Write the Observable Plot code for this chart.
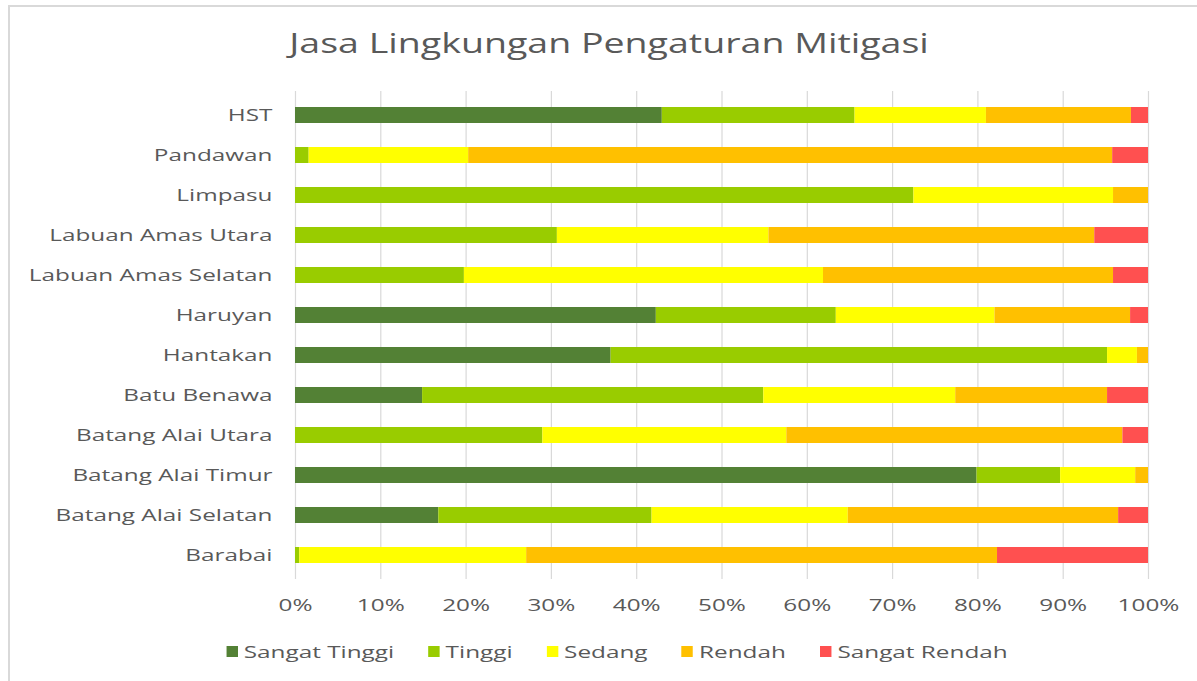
<!DOCTYPE html>
<html>
<head>
<meta charset="utf-8">
<script src="https://cdn.jsdelivr.net/npm/d3@7"></script>
<script src="https://cdn.jsdelivr.net/npm/@observablehq/plot@0.6"></script>
<style>
  html, body { margin: 0; padding: 0; background: #fff; }
  body { width: 1197px; height: 681px; position: relative; overflow: hidden; font-family: "Open Sans", sans-serif; color: #595959; }
  #frame { position: absolute; left: 8px; top: 5px; width: 1300px; height: 800px; border-left: 2px solid #d9d9d9; border-top: 2px solid #d9d9d9; }
  #title { position: absolute; left: 0; top: 24px; width: 1218px; text-align: center; }
  #title span { display: inline-block; font-size: 27px; font-weight: 400; color: #595959; transform: scaleX(1.39); transform-origin: center; }
  #chart { position: absolute; left: 0; top: 80px; }
  #legend { position: absolute; left: 0; top: 640px; width: 1234px; text-align: center; }
  #legend .inner { display: inline-flex; align-items: center; gap: 24px; transform: scaleX(1.43); transform-origin: center; font-size: 17px; color: #595959; }
  #legend .item { display: inline-flex; align-items: center; gap: 4px; }
  #legend .sw { width: 8px; height: 11px; display: inline-block; }
</style>
</head>
<body>
<div id="frame"></div>
<div id="title"><span>Jasa Lingkungan Pengaturan Mitigasi</span></div>
<div id="chart"></div>
<div id="legend"><div class="inner"></div></div>
<script>
const regions = ["HST","Pandawan","Limpasu","Labuan Amas Utara","Labuan Amas Selatan","Haruyan","Hantakan","Batu Benawa","Batang Alai Utara","Batang Alai Timur","Batang Alai Selatan","Barabai"];
const levels = ["Sangat Tinggi","Tinggi","Sedang","Rendah","Sangat Rendah"];
const colors = ["#538135","#99CC00","#FFFF00","#FFC000","#FF5050"];
const sangatTinggi = [43.0, 0, 0, 0, 0, 42.3, 37.0, 14.9, 0, 79.9, 16.8, 0];
const tinggi       = [22.6, 1.6, 72.5, 30.7, 19.8, 21.1, 58.2, 40.0, 29.0, 9.8, 25.0, 0.5];
const sedang       = [15.4, 18.7, 23.4, 24.8, 42.1, 18.6, 3.5, 22.5, 28.6, 8.8, 23.0, 26.6];
const rendah       = [17.0, 75.5, 4.1, 38.2, 34.0, 15.9, 1.3, 17.8, 39.4, 1.5, 31.7, 55.2];
const sangatRendah = [2.0, 4.2, 0, 6.3, 4.1, 2.1, 0, 4.8, 3.0, 0, 3.5, 17.7];
const xTicks = [0, 0.1, 0.2, 0.3, 0.4, 0.5, 0.6, 0.7, 0.8, 0.9, 1];

const series = [sangatTinggi, tinggi, sedang, rendah, sangatRendah];
const data = [];
regions.forEach((r, i) => {
  levels.forEach((l, j) => data.push({region: r, level: l, value: series[j][i]}));
});

const chart = Plot.plot({
  width: 1197,
  height: 545,
  marginLeft: 295,
  marginRight: 49,
  marginTop: 11,
  marginBottom: 46,
  style: {fontFamily: "Open Sans, sans-serif", fontSize: "17px", color: "#595959", background: "transparent"},
  x: {domain: [0, 1], label: null},
  y: {domain: regions, label: null, paddingInner: 0.6, paddingOuter: 0.3},
  color: {domain: levels, range: colors},
  marks: [
    Plot.gridX(xTicks, {stroke: "#d9d9d9", strokeOpacity: 1, strokeWidth: 1.2}),
    Plot.barX(data, Plot.stackX({x: "value", y: "region", fill: "level", order: levels, offset: "normalize"})),
    Plot.axisX(xTicks, {tickSize: 0, tickPadding: 19, tickFormat: d3.format(".0%"), label: null}),
    Plot.axisY({tickSize: 0, tickPadding: 23, label: null})
  ]
});

function stretch(t, k) {
  const tr = t.getAttribute("transform") || "";
  const x = +(t.getAttribute("x") || 0);
  t.setAttribute("transform", `${tr} translate(${x},0) scale(${k},1) translate(${-x},0)`);
}
chart.querySelectorAll('g[aria-label$="tick label"] text').forEach(t => stretch(t, 1.43));
document.getElementById("chart").appendChild(chart);

const inner = document.querySelector("#legend .inner");
levels.forEach((l, j) => {
  const item = document.createElement("span");
  item.className = "item";
  const sw = document.createElement("span");
  sw.className = "sw";
  sw.style.background = colors[j];
  const tx = document.createElement("span");
  tx.textContent = l;
  item.appendChild(sw);
  item.appendChild(tx);
  inner.appendChild(item);
});
</script>
</body>
</html>
